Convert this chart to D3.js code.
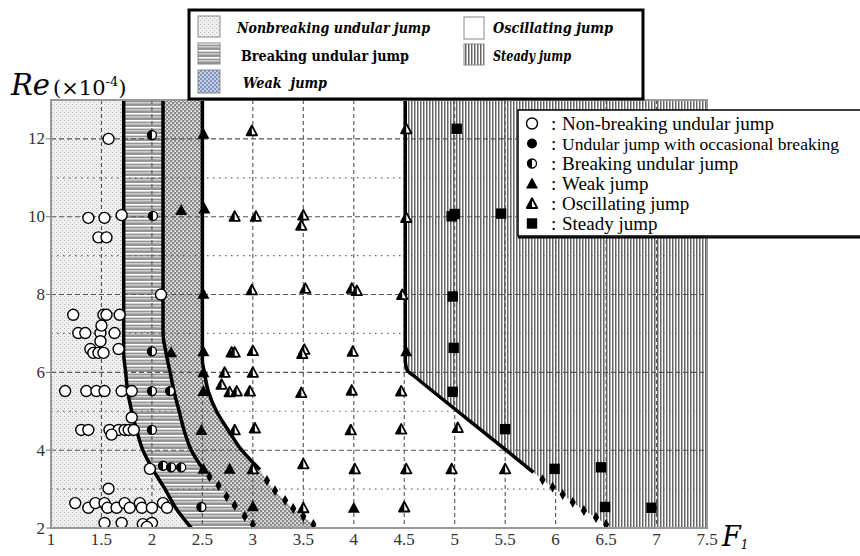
<!DOCTYPE html>
<html>
<head>
<meta charset="utf-8">
<script src="https://cdn.jsdelivr.net/npm/d3@7"></script>
<style>
  body { margin: 0; background: #fff; }
  svg { display: block; }
</style>
</head>
<body>
<div id="chart"></div>
<script>
const WIDTH = 860
const HEIGHT = 556
const MARGIN = { left: 51, right: 153, top: 100, bottom: 28 }

// axis ticks
const X_TICKS = [1, 1.5, 2, 2.5, 3, 3.5, 4, 4.5, 5, 5.5, 6, 6.5, 7, 7.5]
const X_TICK_LABELS = ['1', '1.5', '2', '2.5', '3', '3.5', '4', '4.5', '5', '5.5', '6', '6.5', '7', '7.5']
const Y_TICKS = [2, 4, 6, 8, 10, 12]
const Y_MINOR = [3, 5, 7, 9, 11]

// region boundaries [F1, Re], read top to bottom
const B1_SOLID = [[1.72, 13], [1.72, 6.5], [1.74, 6], [1.76, 5.5], [1.8, 5], [1.85, 4.5], [1.91, 4], [2.01, 3.5], [2.13, 3], [2.24, 2.5], [2.39, 2]]
const B2_SOLID = [[2.11, 13], [2.11, 7], [2.14, 6.5], [2.18, 6], [2.22, 5.5], [2.27, 5], [2.32, 4.5], [2.39, 4], [2.51, 3.5]]
const B2_DOTS = [[2.57, 3.32], [2.66, 3.09], [2.74, 2.81], [2.82, 2.58], [2.92, 2.3], [3.0, 2.09]]
const B3_SOLID = [[2.5, 13], [2.5, 6.3], [2.52, 6], [2.56, 5.5], [2.64, 5], [2.76, 4.5], [2.89, 4], [3.07, 3.5]]
const B3_DOTS = [[3.14, 3.22], [3.22, 2.96], [3.32, 2.71], [3.4, 2.5], [3.5, 2.3], [3.6, 2.09]]
const B4_SOLID = [[4.51, 13], [4.51, 6.3], [4.53, 6.05], [4.6, 5.9], [5.51, 4.0], [5.78, 3.43]]
const B4_DOTS = [[5.87, 3.24], [5.97, 3.05], [6.07, 2.86], [6.17, 2.66], [6.28, 2.45], [6.4, 2.27], [6.5, 2.09]]

// observations [F1, Re]
const NON_BREAKING = [
  [1.57, 12.0], [1.37, 9.97], [1.53, 9.97], [1.70, 10.04], [1.47, 9.47], [1.55, 9.47], [2.09, 8.0],
  [1.22, 7.48], [1.52, 7.48], [1.55, 7.48], [1.68, 7.48],
  [1.27, 7.01], [1.34, 7.01], [1.49, 7.01], [1.63, 7.01], [1.50, 7.2],
  [1.39, 6.6], [1.42, 6.5], [1.47, 6.5], [1.52, 6.5], [1.67, 6.6], [1.49, 6.8],
  [1.14, 5.52], [1.35, 5.52], [1.45, 5.52], [1.53, 5.52], [1.70, 5.52], [1.80, 5.52], [1.80, 4.84],
  [1.30, 4.52], [1.37, 4.52], [1.58, 4.52], [1.67, 4.52], [1.73, 4.52], [1.77, 4.52], [1.82, 4.52], [1.60, 4.40],
  [1.98, 3.52], [1.57, 3.01],
  [1.24, 2.64], [1.37, 2.52], [1.44, 2.64], [1.53, 2.64], [1.56, 2.52], [1.65, 2.52], [1.73, 2.64],
  [1.78, 2.52], [1.88, 2.64], [1.90, 2.52], [2.0, 2.52], [2.11, 2.64], [2.15, 2.52],
  [1.53, 2.13], [1.70, 2.13], [1.91, 2.1], [2.0, 2.13], [1.95, 2.03]
]
const OCCASIONAL = []
const BREAKING = [[2.0, 12.1], [2.01, 10.02], [2.0, 6.54], [2.0, 5.52], [2.18, 5.52], [2.0, 4.52], [2.11, 3.6], [2.19, 3.56], [2.29, 3.56], [2.49, 2.54]]
const WEAK = [
  [2.51, 12.13], [2.29, 10.17], [2.52, 10.21], [2.51, 8.02], [2.19, 6.52], [2.51, 6.54], [2.51, 6.0],
  [2.51, 5.52], [2.49, 4.52], [2.51, 3.52], [2.77, 3.52], [3.0, 2.56], [4.0, 2.52], [4.52, 6.54]
]
const OSCILLATING = [
  [2.99, 12.21], [4.52, 12.26],
  [2.82, 10.01], [3.03, 10.01], [3.50, 10.04], [3.48, 9.78], [4.52, 9.98],
  [2.99, 8.12], [3.52, 8.16], [3.98, 8.16], [4.03, 8.1], [4.48, 8.0],
  [2.79, 6.52], [2.82, 6.52], [3.0, 6.56], [3.51, 6.59], [3.49, 6.48], [3.99, 6.54],
  [2.72, 6.0], [3.0, 6.0], [2.69, 5.69],
  [2.77, 5.5], [2.84, 5.52], [2.97, 5.52], [3.48, 5.48], [3.98, 5.54], [4.47, 5.52],
  [2.82, 4.52], [3.02, 4.57], [3.97, 4.52], [4.47, 4.54], [5.03, 4.58],
  [3.0, 3.52], [3.5, 3.65], [4.01, 3.52], [4.52, 3.52], [4.97, 3.52], [5.5, 3.52],
  [3.5, 2.52], [4.5, 2.54]
]
const STEADY = [
  [5.02, 12.26], [4.97, 10.01], [5.0, 10.07], [5.46, 10.08], [4.98, 7.95], [4.99, 6.63], [4.98, 5.5],
  [5.5, 4.54], [5.99, 3.52], [6.45, 3.56], [6.49, 2.54], [6.95, 2.52]
]

// legends
const REGION_LABELS = ['Nonbreaking undular jump', 'Breaking undular jump', 'Weak  jump', 'Oscillating jump', 'Steady jump']
const SYMBOL_LABELS = ['Non-breaking undular jump', 'Undular jump with occasional breaking', 'Breaking undular jump', 'Weak jump', 'Oscillating jump', 'Steady jump']
const SYMBOL_TYPES = ['open', 'filled', 'half', 'weak', 'osc', 'square']

const x = d3.scaleLinear().domain([1, 7.5]).range([MARGIN.left, WIDTH - MARGIN.right])
const y = d3.scaleLinear().domain([2, 13]).range([HEIGHT - MARGIN.bottom, MARGIN.top])

const svg = d3.select('#chart').append('svg')
  .attr('width', WIDTH)
  .attr('height', HEIGHT)
  .attr('font-family', '"Liberation Serif", "Times New Roman", serif')

const defs = svg.append('defs')

// fill textures
const stipple = defs.append('pattern').attr('id', 'stipple')
  .attr('patternUnits', 'userSpaceOnUse').attr('width', 4).attr('height', 4)
stipple.append('rect').attr('width', 4).attr('height', 4).attr('fill', '#f0f0f0')
stipple.append('rect').attr('x', 0).attr('y', 0).attr('width', 1).attr('height', 1).attr('fill', '#b0b0b0')
stipple.append('rect').attr('x', 2).attr('y', 2).attr('width', 1).attr('height', 1).attr('fill', '#c4c4c4')

const hstripe = defs.append('pattern').attr('id', 'hstripe')
  .attr('patternUnits', 'userSpaceOnUse').attr('width', 8).attr('height', 7)
hstripe.append('rect').attr('width', 8).attr('height', 7).attr('fill', '#949494')
hstripe.append('rect').attr('y', 1).attr('width', 8).attr('height', 1.6).attr('fill', '#ffffff')
hstripe.append('rect').attr('y', 4.3).attr('width', 8).attr('height', 1.1).attr('fill', '#e6e6e6')

const checker = defs.append('pattern').attr('id', 'checker')
  .attr('patternUnits', 'userSpaceOnUse').attr('width', 4).attr('height', 4)
checker.append('rect').attr('width', 4).attr('height', 4).attr('fill', '#8a8a8a')
checker.append('rect').attr('x', 0.3).attr('y', 0.3).attr('width', 1.6).attr('height', 1.6).attr('fill', '#fff')
checker.append('rect').attr('x', 2.3).attr('y', 2.3).attr('width', 1.6).attr('height', 1.6).attr('fill', '#fff')

const checkerBlue = defs.append('pattern').attr('id', 'checkerBlue')
  .attr('patternUnits', 'userSpaceOnUse').attr('width', 4).attr('height', 4)
checkerBlue.append('rect').attr('width', 4).attr('height', 4).attr('fill', '#7f95bd')
checkerBlue.append('rect').attr('x', 0.3).attr('y', 0.3).attr('width', 1.5).attr('height', 1.5).attr('fill', '#fff')
checkerBlue.append('rect').attr('x', 2.3).attr('y', 2.3).attr('width', 1.5).attr('height', 1.5).attr('fill', '#fff')

const vstripe = defs.append('pattern').attr('id', 'vstripe')
  .attr('patternUnits', 'userSpaceOnUse').attr('width', 3).attr('height', 8)
vstripe.append('rect').attr('width', 3).attr('height', 8).attr('fill', '#ffffff')
vstripe.append('rect').attr('width', 1.5).attr('height', 8).attr('fill', '#666666')

defs.append('clipPath').attr('id', 'plot-clip')
  .append('rect')
  .attr('x', x(1)).attr('y', y(13))
  .attr('width', x(7.5) - x(1)).attr('height', y(2) - y(13))

const plot = svg.append('g').attr('clip-path', 'url(#plot-clip)')

// regions: each one covers everything right of its boundary
const edge = d3.line().x(d => x(d[0])).y(d => y(d[1])).curve(d3.curveMonotoneY)
const withBottom = (solid, dots) => {
  const pts = solid.concat(dots)
  const last = pts[pts.length - 1]
  const prev = pts[pts.length - 2]
  if (last[1] > 2) {
    const t = (last[1] - 2) / (prev[1] - last[1])
    pts.push([last[0] + (last[0] - prev[0]) * t, 2])
  }
  return pts
}
const regionPath = (pts) => edge(pts) + `L${x(7.5)},${y(2)}L${x(7.5)},${y(13)}Z`

plot.append('rect')
  .attr('x', x(1)).attr('y', y(13))
  .attr('width', x(7.5) - x(1)).attr('height', y(2) - y(13))
  .attr('fill', 'url(#stipple)')

const regions = [
  { pts: withBottom(B1_SOLID, []), fill: 'url(#hstripe)' },
  { pts: withBottom(B2_SOLID, B2_DOTS), fill: 'url(#checker)' },
  { pts: withBottom(B3_SOLID, B3_DOTS), fill: '#ffffff' },
  { pts: withBottom(B4_SOLID, B4_DOTS), fill: 'url(#vstripe)' },
]
plot.selectAll('path.region')
  .data(regions)
  .enter()
  .append('path')
  .attr('class', 'region')
  .attr('d', d => regionPath(d.pts))
  .attr('fill', d => d.fill)

// grid
plot.append('g').selectAll('line')
  .data(X_TICKS.filter(v => v > 1 && v < 7.5))
  .enter().append('line')
  .attr('x1', d => x(d)).attr('x2', d => x(d))
  .attr('y1', y(13)).attr('y2', y(2))
  .attr('stroke', '#555').attr('stroke-width', 1.1).attr('stroke-dasharray', '4,3')

plot.append('g').selectAll('line')
  .data(Y_TICKS.filter(v => v > 2))
  .enter().append('line')
  .attr('x1', x(1)).attr('x2', x(7.5))
  .attr('y1', d => y(d)).attr('y2', d => y(d))
  .attr('stroke', '#555').attr('stroke-width', 1.1).attr('stroke-dasharray', '5,3')

plot.append('g').selectAll('line')
  .data(Y_MINOR)
  .enter().append('line')
  .attr('x1', x(1)).attr('x2', x(7.5))
  .attr('y1', d => y(d)).attr('y2', d => y(d))
  .attr('stroke', '#666').attr('stroke-width', 1.2).attr('stroke-dasharray', '1.5,4.5')

// boundary lines
const boundaryLine = d3.line().x(d => x(d[0])).y(d => y(d[1])).curve(d3.curveMonotoneY)
plot.selectAll('path.boundary')
  .data([B1_SOLID, B2_SOLID, B3_SOLID, B4_SOLID])
  .enter()
  .append('path')
  .attr('class', 'boundary')
  .attr('d', boundaryLine)
  .attr('fill', 'none')
  .attr('stroke', '#000')
  .attr('stroke-width', 3.5)

const diamond = d3.symbol().type(d3.symbolDiamond).size(34)
plot.selectAll('path.dot')
  .data(B2_DOTS.concat(B3_DOTS, B4_DOTS))
  .enter()
  .append('path')
  .attr('class', 'dot')
  .attr('d', diamond)
  .attr('transform', d => `translate(${x(d[0])},${y(d[1])})`)
  .attr('fill', '#000')

// markers
const R = 5.5
const HR = 4.5
function drawMarker(g, type) {
  if (type === 'open') {
    g.append('circle').attr('r', R).attr('fill', '#fff').attr('stroke', '#000').attr('stroke-width', 1.4)
  } else if (type === 'filled') {
    g.append('circle').attr('r', HR + 0.5).attr('fill', '#000')
  } else if (type === 'half') {
    g.append('circle').attr('r', HR).attr('fill', '#fff').attr('stroke', '#000').attr('stroke-width', 1.3)
    g.append('path').attr('d', `M0,${-HR}A${HR},${HR} 0 0 0 0,${HR}Z`).attr('fill', '#000')
  } else if (type === 'weak') {
    g.append('path').attr('d', 'M0,-6L-6,5L6,5Z').attr('fill', '#000')
  } else if (type === 'osc') {
    g.append('path').attr('d', 'M0,-5.2L-5.2,4.5L5.2,4.5Z')
      .attr('fill', '#fff').attr('stroke', '#000').attr('stroke-width', 1.8).attr('stroke-linejoin', 'round')
    g.append('path').attr('d', 'M0,-5.2L-5.2,4.5L0,4.5Z').attr('fill', '#000')
  } else if (type === 'square') {
    g.append('rect').attr('x', -5.2).attr('y', -5.2).attr('width', 10.4).attr('height', 10.4).attr('fill', '#000')
  }
}

const series = [
  { type: 'open', data: NON_BREAKING },
  { type: 'filled', data: OCCASIONAL },
  { type: 'half', data: BREAKING },
  { type: 'weak', data: WEAK },
  { type: 'osc', data: OSCILLATING },
  { type: 'square', data: STEADY },
]
series.forEach(s => {
  plot.append('g').selectAll('g')
    .data(s.data)
    .enter()
    .append('g')
    .attr('transform', d => `translate(${x(d[0])},${y(d[1])})`)
    .each(function () { drawMarker(d3.select(this), s.type) })
})

// frame and ticks
svg.append('rect')
  .attr('x', x(1)).attr('y', y(13))
  .attr('width', x(7.5) - x(1)).attr('height', y(2) - y(13))
  .attr('fill', 'none').attr('stroke', '#999').attr('stroke-width', 2)

svg.append('g').selectAll('line')
  .data(Y_TICKS)
  .enter().append('line')
  .attr('x1', x(1) - 5).attr('x2', x(1))
  .attr('y1', d => y(d)).attr('y2', d => y(d))
  .attr('stroke', '#777').attr('stroke-width', 1)

svg.append('g').selectAll('text')
  .data(Y_TICKS)
  .enter().append('text')
  .attr('x', x(1) - 6)
  .attr('y', d => y(d) + 5.5)
  .attr('text-anchor', 'end')
  .attr('font-size', 17)
  .attr('fill', '#333')
  .text(d => d)

svg.append('g').selectAll('text')
  .data(X_TICKS)
  .enter().append('text')
  .attr('x', d => x(d))
  .attr('y', HEIGHT - MARGIN.bottom + 17)
  .attr('text-anchor', 'middle')
  .attr('font-size', 17)
  .attr('fill', '#333')
  .text((d, i) => X_TICK_LABELS[i])

// axis titles
const reTitle = svg.append('text').attr('x', 11).attr('y', 95).attr('font-family', '"DejaVu Serif", serif')
reTitle.append('tspan').attr('font-size', 29).attr('font-style', 'italic').text('Re')
reTitle.append('tspan').attr('font-size', 21).attr('dx', 3).text('(×10')
reTitle.append('tspan').attr('font-size', 13).attr('dy', -9).text('-4')
reTitle.append('tspan').attr('font-size', 21).attr('dy', 9).text(')')

const fTitle = svg.append('text').attr('x', 722).attr('y', 546).attr('font-family', '"DejaVu Serif", serif')
fTitle.append('tspan').attr('font-size', 27).attr('font-style', 'italic').text('F')
fTitle.append('tspan').attr('font-size', 12).attr('font-style', 'italic').attr('dy', 3).text('1')

// region legend
const lg1 = svg.append('g')
lg1.append('rect').attr('x', 189).attr('y', 10).attr('width', 454).attr('height', 89)
  .attr('fill', '#fff').attr('stroke', '#000').attr('stroke-width', 3)

const swatches = [
  { x: 198, y: 16, w: 22, h: 21, fill: 'url(#stipple)' },
  { x: 198, y: 43, w: 22, h: 21, fill: 'url(#hstripe)' },
  { x: 198, y: 70, w: 22, h: 23, fill: 'url(#checkerBlue)' },
  { x: 464, y: 17, w: 20, h: 22, fill: '#fff' },
  { x: 464, y: 44, w: 20, h: 21, fill: 'url(#vstripe)' },
]
lg1.selectAll('rect.sw')
  .data(swatches)
  .enter().append('rect')
  .attr('class', 'sw')
  .attr('x', d => d.x).attr('y', d => d.y)
  .attr('width', d => d.w).attr('height', d => d.h)
  .attr('fill', d => d.fill).attr('stroke', '#888').attr('stroke-width', 1)

const labelSpecs = [
  { x: 237, y: 33, w: 193, italic: true },
  { x: 241, y: 61, w: 168, italic: false },
  { x: 243, y: 88, w: 84, italic: true },
  { x: 493, y: 33, w: 120, italic: true },
  { x: 493, y: 61, w: 78, italic: true },
]
lg1.selectAll('text')
  .data(REGION_LABELS)
  .enter().append('text')
  .attr('x', (d, i) => labelSpecs[i].x)
  .attr('y', (d, i) => labelSpecs[i].y)
  .attr('textLength', (d, i) => labelSpecs[i].w)
  .attr('lengthAdjust', 'spacingAndGlyphs')
  .attr('font-family', '"DejaVu Serif", serif')
  .attr('font-size', 14)
  .attr('font-weight', 'bold')
  .attr('font-style', (d, i) => labelSpecs[i].italic ? 'italic' : 'normal')
  .style('white-space', 'pre')
  .text(d => d)

// symbol legend
const lg2 = svg.append('g')
lg2.append('rect').attr('x', 518).attr('y', 110).attr('width', 360).attr('height', 126)
  .attr('fill', '#fff').attr('stroke', '#000').attr('stroke-width', 1.5)
lg2.append('line').attr('x1', 518).attr('x2', 870).attr('y1', 237.5).attr('y2', 237.5)
  .attr('stroke', '#000').attr('stroke-width', 2)

const rows = lg2.selectAll('g.row')
  .data(SYMBOL_LABELS)
  .enter().append('g')
  .attr('class', 'row')
  .attr('transform', (d, i) => `translate(0,${123.5 + i * 20})`)

rows.append('g')
  .attr('transform', 'translate(532,0)')
  .each(function (d, i) { drawMarker(d3.select(this), SYMBOL_TYPES[i]) })

rows.append('text')
  .attr('x', 551)
  .attr('y', 6)
  .attr('font-size', 19)
  .text(':')

// the longest label gets a slightly smaller size so it stays inside the window
rows.append('text')
  .attr('x', 562)
  .attr('y', 6)
  .attr('font-size', d => d.length > 30 ? 17.5 : 19)
  .text(d => d)
</script>
</body>
</html>
